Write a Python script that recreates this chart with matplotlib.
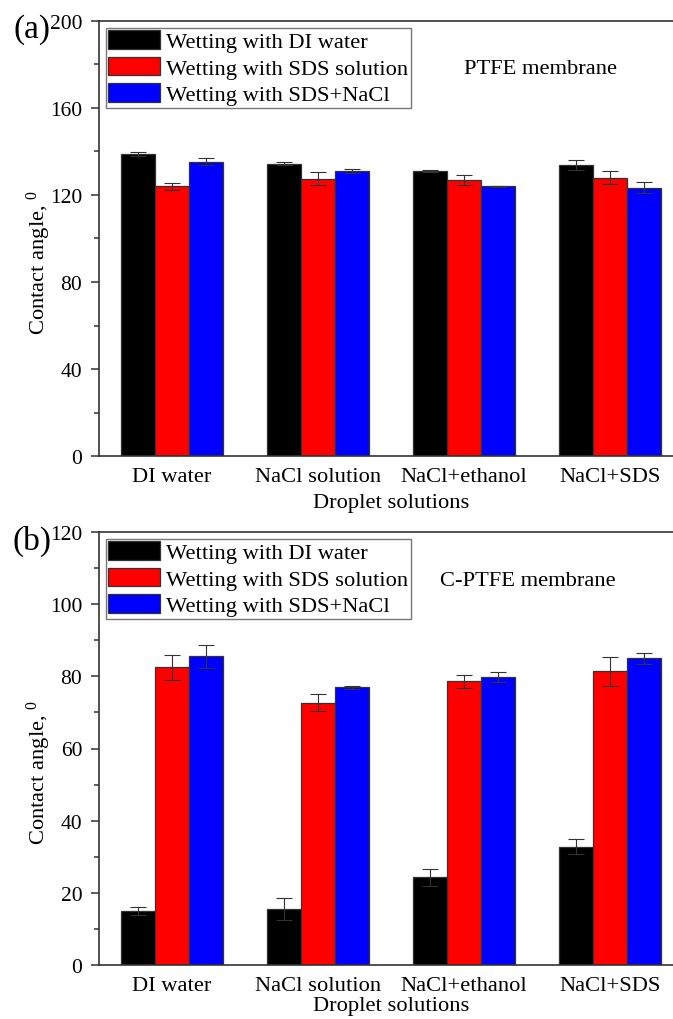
import numpy as np
import matplotlib
matplotlib.use("Agg")
import matplotlib.pyplot as plt
from matplotlib.ticker import MultipleLocator

plt.rcParams['font.family'] = ['Liberation Serif', 'DejaVu Serif']
plt.rcParams['mathtext.default'] = 'regular'

categories = ['DI water', 'NaCl solution', 'NaCl+ethanol', 'NaCl+SDS']
series_names = ['Wetting with DI water', 'Wetting with SDS solution', 'Wetting with SDS+NaCl']
series_colors = ['#000000', '#ff0000', '#0000ff']

# PTFE membrane contact angles (deg) and error bars
ptfe_di = [138.8, 134.4, 131.0, 133.7]
ptfe_di_err = [0.9, 0.7, 0.5, 2.4]
ptfe_sds = [124.0, 127.5, 127.0, 128.0]
ptfe_sds_err = [1.6, 3.1, 2.3, 3.0]
ptfe_sds_nacl = [135.3, 131.0, 124.0, 123.4]
ptfe_sds_nacl_err = [1.6, 0.9, 0.3, 2.4]

# C-PTFE membrane contact angles (deg) and error bars
cptfe_di = [15.0, 15.6, 24.3, 32.8]
cptfe_di_err = [1.1, 3.0, 2.3, 2.1]
cptfe_sds = [82.5, 72.7, 78.6, 81.4]
cptfe_sds_err = [3.4, 2.3, 1.7, 4.0]
cptfe_sds_nacl = [85.5, 77.0, 79.9, 85.0]
cptfe_sds_nacl_err = [3.1, 0.4, 1.4, 1.6]

W, H = 673, 1020
fig = plt.figure(figsize=(W / 100, H / 100), dpi=100)

FS = 16.2
TICK_FS = 15.5
SPINE = '#333333'


def panel(rect, vals, errs, ylim, major, minor, title, tag, tag_y, xlabel_pad):
    ax = fig.add_axes(rect)
    x = np.arange(1, len(categories) + 1)
    bw = 0.233
    for i, (v, e) in enumerate(zip(vals, errs)):
        ax.bar(x + (i - 1) * bw, v, width=bw, color=series_colors[i],
               edgecolor=SPINE, linewidth=0.9, label=series_names[i], zorder=2)
        ax.errorbar(x + (i - 1) * bw, v, yerr=e, fmt='none', ecolor='#333333',
                    elinewidth=0.8, capsize=5.5, capthick=0.8, zorder=3)
    ax.set_xlim(0.5, 4.5)
    ax.set_ylim(*ylim)
    ax.yaxis.set_major_locator(MultipleLocator(major))
    ax.yaxis.set_minor_locator(MultipleLocator(minor))
    ax.set_xticks(x)
    ax.set_xticklabels(categories, fontsize=FS)
    ax.tick_params(axis='x', length=0, pad=8)
    ax.tick_params(axis='y', which='major', length=6, width=1.1, color=SPINE,
                   labelsize=TICK_FS, pad=6)
    ax.tick_params(axis='y', which='minor', length=3.5, width=1.1, color=SPINE)
    for s in ax.spines.values():
        s.set_color(SPINE)
        s.set_linewidth(1.2)
    ax.set_xlabel('Droplet solutions', fontsize=FS, labelpad=xlabel_pad)
    ax.text(-0.103, 0.448, r'Contact angle, $^{0}$', transform=ax.transAxes,
            rotation=90, ha='center', va='center', fontsize=FS)
    leg = ax.legend(loc='upper left', fontsize=FS, frameon=True, fancybox=False,
                    edgecolor='#777777', framealpha=1, borderpad=0.1,
                    borderaxespad=0.3, handlelength=2.3, handleheight=0.9,
                    handletextpad=0.3, labelspacing=0.2)
    leg.get_frame().set_linewidth(1.0)
    ax.text(title[1], title[2], title[0], transform=ax.transAxes,
            ha='center', va='center', fontsize=FS)
    fig.text(32 / W, tag_y, tag, ha='center', va='center', fontsize=24)
    return ax


ax_w = 584 / W
panel([99 / W, 1 - 457 / H, ax_w, 435 / H],
      [ptfe_di, ptfe_sds, ptfe_sds_nacl],
      [ptfe_di_err, ptfe_sds_err, ptfe_sds_nacl_err],
      (0, 200), 40, 20, ('PTFE membrane', (540 - 99) / 584, (457 - 70) / 435),
      '(a)', 1 - 30 / H, 5)

panel([99 / W, 1 - 966 / H, ax_w, 433 / H],
      [cptfe_di, cptfe_sds, cptfe_sds_nacl],
      [cptfe_di_err, cptfe_sds_err, cptfe_sds_nacl_err],
      (0, 120), 20, 10, ('C-PTFE membrane', (528 - 99) / 584, (966 - 582) / 433),
      '(b)', 1 - 541 / H, 0.5)

fig.savefig('out.png', dpi=100)
